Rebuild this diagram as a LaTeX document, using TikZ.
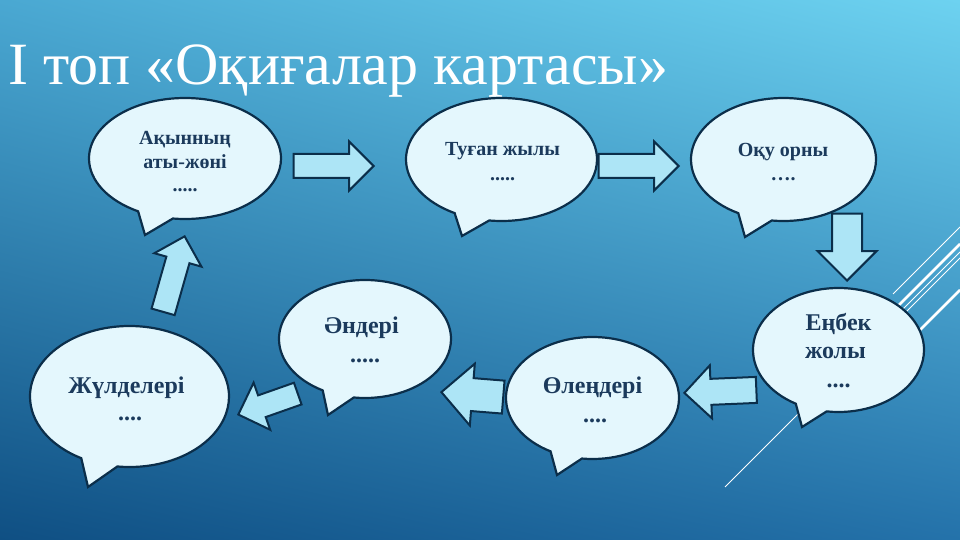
\documentclass[tikz,border=0pt]{standalone}
\usepackage{fontspec}
\setmainfont{Liberation Serif}
\usetikzlibrary{shapes.callouts,shapes.arrows,shadings}
\definecolor{bgTL}{HTML}{4AA8D2}
\definecolor{bgTR}{HTML}{6DD2F0}
\definecolor{bgBL}{HTML}{0F4F83}
\definecolor{bgBR}{HTML}{2472AA}
\definecolor{outl}{HTML}{0B2E4A}
\definecolor{bubfill}{HTML}{E4F7FD}
\definecolor{arrfill}{HTML}{ADE5F6}
\definecolor{txt}{HTML}{1B3A5C}
\tikzset{
  bubble/.style={ellipse callout, draw=outl, fill=bubfill, line width=2.2pt, inner sep=0pt, callout pointer arc=22},
  blockarrow/.style={single arrow, draw=outl, fill=arrfill, line width=2pt, inner xsep=0pt, anchor=tip,
    single arrow head indent=0pt, text height=0pt, text depth=0pt, text width=0pt},
  stxt/.style={font=\bfseries\fontsize{20}{24}\selectfont, text=txt, anchor=base, inner sep=0pt},
  btxt/.style={font=\bfseries\fontsize{24}{28}\selectfont, text=txt, anchor=base, inner sep=0pt},
  decothin/.style={draw=white, line width=0.8pt},
  decothick/.style={draw=white, line width=2.6pt},
}
\begin{document}
\begin{tikzpicture}[x=1pt,y=-1pt]
\useasboundingbox (0,0) rectangle (960,540);
\shade[upper left=bgTL, upper right=bgTR, lower left=bgBL, lower right=bgBR] (0,0) rectangle (960,540);
% decorative lines
\coordinate (l1a) at (893,294); \coordinate (l1b) at (960,227);
\coordinate (l2a) at (880,324); \coordinate (l2b) at (960,244);
\coordinate (l3a) at (725,487); \coordinate (l3b) at (960,252);
\coordinate (l4a) at (880,338); \coordinate (l4b) at (960,258);
\coordinate (l5a) at (900,350); \coordinate (l5b) at (960,290);
\draw[decothin] (l1a) -- (l1b);
\draw[decothick] (l2a) -- (l2b);
\draw[decothin] (l3a) -- (l3b);
\draw[decothin] (l4a) -- (l4b);
\draw[decothick] (l5a) -- (l5b);
% title
\node[anchor=base west, inner sep=0pt, text=white, font=\fontsize{60}{60}\selectfont] (title) at (8,85) {I топ «Оқиғалар картасы»};
% bubbles
\node[bubble, minimum width=192pt, minimum height=121pt, callout absolute pointer={(145,235)}] (b1) at (185,158.5) {};
\node[bubble, minimum width=191pt, minimum height=123pt, callout absolute pointer={(462,236)}] (b2) at (501.5,159.5) {};
\node[bubble, minimum width=185pt, minimum height=123pt, callout absolute pointer={(745,237)}] (b3) at (783.5,159.5) {};
\node[bubble, minimum width=171pt, minimum height=124pt, callout absolute pointer={(802,427)}] (b4) at (838.5,350) {};
\node[bubble, minimum width=173pt, minimum height=122pt, callout absolute pointer={(557,475)}] (b5) at (592.5,398) {};
\node[bubble, minimum width=172pt, minimum height=118pt, callout absolute pointer={(328,415)}] (b6) at (365,339) {};
\node[bubble, minimum width=199pt, minimum height=141pt, callout absolute pointer={(88,487)}] (b7) at (129.5,396.5) {};
% texts
\node[stxt] (t1a) at (185,145) {Ақынның};
\node[stxt] (t1b) at (185,168) {аты-жөні};
\node[stxt] (t1c) at (185,191) {.....};
\node[stxt] (t2a) at (502.5,156) {Туған жылы};
\node[stxt] (t2b) at (502.5,180) {.....};
\node[stxt] (t3a) at (783,157) {Оқу орны};
\node[stxt] (t3b) at (783,180) {….};
\node[btxt] (t4a) at (838.5,330) {Еңбек};
\node[btxt, anchor=base west] (t4b) at (805,358) {жолы};
\node[btxt] (t4c) at (838.5,387) {....};
\node[btxt] (t5a) at (592.5,393) {Өлеңдері};
\node[btxt] (t5b) at (595,422) {....};
\node[btxt] (t6a) at (361.5,333) {Әндері};
\node[btxt] (t6b) at (365,362) {.....};
\node[btxt] (t7a) at (126.5,393) {Жүлделері};
\node[btxt] (t7b) at (130,420) {....};
% block arrows (placed by their tips)
\node[blockarrow, minimum height=80pt, inner ysep=11pt, single arrow head extend=12.5pt] (a1) at (375,166) {};
\node[blockarrow, minimum height=80pt, inner ysep=11pt, single arrow head extend=12.5pt] (a2) at (680,166) {};
\node[blockarrow, minimum height=67pt, inner ysep=14pt, single arrow head extend=14.5pt, rotate=-90] (a3) at (847,282) {};
\node[blockarrow, minimum height=72pt, inner ysep=12pt, single arrow head extend=13.5pt, rotate=182.4] (a4) at (683,393) {};
\node[blockarrow, minimum height=62pt, inner ysep=15.5pt, single arrow head extend=14.5pt, rotate=175.4] (a5) at (440,392) {};
\node[blockarrow, minimum height=63pt, inner ysep=10.5pt, single arrow head extend=13.5pt, rotate=199.4] (a6) at (237,415) {};
\node[blockarrow, minimum height=78.5pt, inner ysep=11pt, single arrow head extend=12.5pt, rotate=74.1] (a7) at (185,235) {};
\end{tikzpicture}
\end{document}
